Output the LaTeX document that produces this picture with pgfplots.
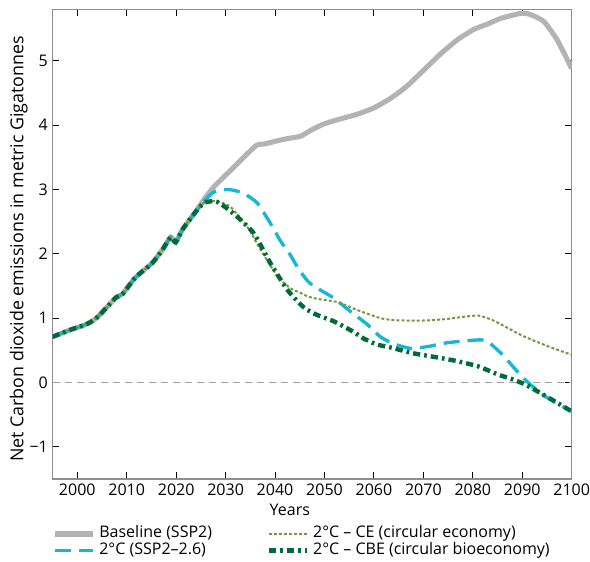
\documentclass[border=0pt]{standalone}
\usepackage{fontspec}
\setmainfont{Open Sans}
\usepackage{pgfplots}
\pgfplotsset{compat=1.18}

\definecolor{basegray}{HTML}{B3B3B3}
\definecolor{ssp26}{HTML}{14B7D4}
\definecolor{cegreen}{HTML}{6E9A40}
\definecolor{cbegreen}{HTML}{006A38}
\definecolor{framegray}{HTML}{8E8E8E}

\begin{document}
\begin{tikzpicture}[font=\fontsize{12}{14}\selectfont]
\begin{axis}[
  scale only axis,
  width=389.4pt, height=352.1pt,
  xmin=1995, xmax=2100,
  ymin=-1.5, ymax=5.8,
  xtick={2000,2010,...,2100},
  ytick={-1,0,1,2,3,4,5},
  yticklabels={−1,0,1,2,3,4,5},
  /pgf/number format/assume math mode=true,
  xticklabel style={/pgf/number format/1000 sep={}},
  tick align=inside,
  major tick length=5pt,
  tick style={black, line width=0.7pt},
  axis line style={framegray, line width=0.9pt},
  xlabel={Years},
  ylabel={Net Carbon dioxide emissions in metric Gigatonnes},
  xlabel style={at={(rel axis cs:0.457,0)}, anchor=north, yshift=-15pt},
  ylabel style={at={(ticklabel cs:0.49)}, anchor=south, yshift=-5.5pt,
    font=\fontsize{13.4}{15}\selectfont},
  legend columns=2,
  transpose legend,
  legend cell align=left,
  legend style={draw=none, fill=none, inner sep=0pt,
    at={(rel axis cs:-0.001,-0.099)}, anchor=north west,
    row sep=0pt,
    /tikz/every even column/.append style={column sep=41pt},
    nodes={inner sep=0pt, text height=9pt, text depth=3.5pt},
    /tikz/every odd column/.append style={column sep=3pt}},
  legend image code/.code={\draw[#1] (0pt,0pt) -- (28.5pt,0pt);},
  every axis plot/.append style={smooth, tension=0.35},
]

% zero reference line
\addplot[forget plot, no markers, sharp plot, color=basegray!90!black, line width=1.1pt,
  dash pattern=on 5.5pt off 3.5pt] coordinates {(1995,0) (2100,0)};

% Baseline (SSP2)
\addplot[basegray, line width=3.8pt] coordinates {
(1995,0.71) (1997,0.77) (1999,0.83) (2001,0.88) (2002.5,0.93) (2004,1.01)
(2006,1.17) (2007.8,1.32) (2009.2,1.38) (2011.5,1.61) (2013.2,1.73)
(2015.2,1.86) (2017.2,2.06) (2018.9,2.26) (2019.9,2.18) (2021.3,2.38)
(2023.6,2.62) (2025.6,2.84) (2027.6,3.04) (2031.7,3.35) (2036.1,3.68)
(2038,3.71) (2041.1,3.77) (2043.1,3.80) (2045.2,3.83) (2047.2,3.92)
(2049.9,4.02) (2053.3,4.10) (2056.6,4.17) (2060,4.27) (2063.4,4.42)
(2066.7,4.61) (2070.1,4.86) (2073.5,5.11) (2076.9,5.33) (2080.2,5.49)
(2082.9,5.57) (2085.6,5.66) (2089.7,5.74) (2091.7,5.72) (2094.4,5.61)
(2097.1,5.32) (2100,4.88)};
\addlegendentry{Baseline (SSP2)}

% 2 degree pathway (SSP2-2.6)
\addplot[ssp26, line width=2.5pt, dash pattern=on 12pt off 6pt] coordinates {
(1995,0.71) (1997,0.77) (1999,0.83) (2001,0.88) (2002.5,0.93) (2004,1.01)
(2006,1.17) (2007.8,1.32) (2009.2,1.38) (2011.5,1.61) (2013.2,1.73)
(2015.2,1.86) (2017.2,2.06) (2018.9,2.26) (2019.9,2.18) (2021.3,2.38)
(2023.6,2.62) (2025.6,2.82) (2027.6,2.96) (2030,3.00) (2031.5,2.99)
(2033.7,2.94) (2036.4,2.79) (2039.1,2.47) (2041.1,2.20) (2043.1,1.98)
(2044.8,1.76) (2046.8,1.56) (2048.9,1.45) (2051.9,1.31) (2055.3,1.10)
(2058.7,0.90) (2061.3,0.71) (2064,0.60) (2067.5,0.53) (2071,0.56)
(2075,0.62) (2080.6,0.66) (2082,0.66) (2083.3,0.62) (2086,0.43)
(2090.2,0.07) (2094.3,-0.20) (2100,-0.45)};
\addlegendentry{2°C (SSP2–2.6)}

% 2 degree pathway with circular economy
\addplot[cegreen, line width=1.5pt, dash pattern=on 2.2pt off 1.6pt] coordinates {
(1995,0.71) (1997,0.77) (1999,0.83) (2001,0.88) (2002.5,0.93) (2004,1.01)
(2006,1.17) (2007.8,1.32) (2009.2,1.38) (2011.5,1.61) (2013.2,1.73)
(2015.2,1.86) (2017.2,2.06) (2018.9,2.26) (2019.9,2.18) (2021.3,2.38)
(2023.6,2.62) (2025.6,2.79) (2027.6,2.82) (2029,2.80) (2031,2.73)
(2034.4,2.42) (2037.1,2.06) (2040.5,1.65) (2043,1.47) (2045.2,1.39)
(2046.5,1.34) (2048.5,1.30) (2052.6,1.25) (2056.5,1.13) (2061.3,1.00)
(2064,0.97) (2068.2,0.96) (2072,0.97) (2075.1,0.99) (2078,1.02)
(2081.2,1.04) (2084,0.97) (2087,0.85) (2090.2,0.72) (2095.6,0.55)
(2100,0.43)};
\addlegendentry{2°C – CE (circular economy)}

% 2 degree pathway with circular bioeconomy
\addplot[cbegreen, line width=3.3pt, dash pattern=on 5.5pt off 3pt on 2pt off 3pt] coordinates {
(1995,0.71) (1997,0.77) (1999,0.83) (2001,0.88) (2002.5,0.93) (2004,1.01)
(2006,1.17) (2007.8,1.32) (2009.2,1.38) (2011.5,1.61) (2013.2,1.73)
(2015.2,1.86) (2017.2,2.06) (2018.9,2.26) (2019.9,2.18) (2021.3,2.38)
(2023.6,2.62) (2025.6,2.79) (2027.6,2.82) (2029,2.78) (2032.3,2.58)
(2035.7,2.32) (2039.1,1.85) (2042.5,1.44) (2045.2,1.21) (2046.5,1.13)
(2048.5,1.05) (2051.9,0.95) (2055.8,0.79) (2058,0.68) (2060.6,0.59)
(2063,0.55) (2068.2,0.45) (2072,0.40) (2076.3,0.34) (2081.1,0.25)
(2085.2,0.12) (2088,0.05) (2090.8,-0.04) (2095.6,-0.25) (2100,-0.45)};
\addlegendentry{2°C – CBE (circular bioeconomy)}

\coordinate (ll) at (rel axis cs:0,0);
\coordinate (ur) at (rel axis cs:1,1);
\end{axis}
\pgfresetboundingbox
\path ([xshift=-39.4pt,yshift=-62.25pt]ll) rectangle ([xshift=13.7pt,yshift=7.1pt]ur);
\end{tikzpicture}
\end{document}
